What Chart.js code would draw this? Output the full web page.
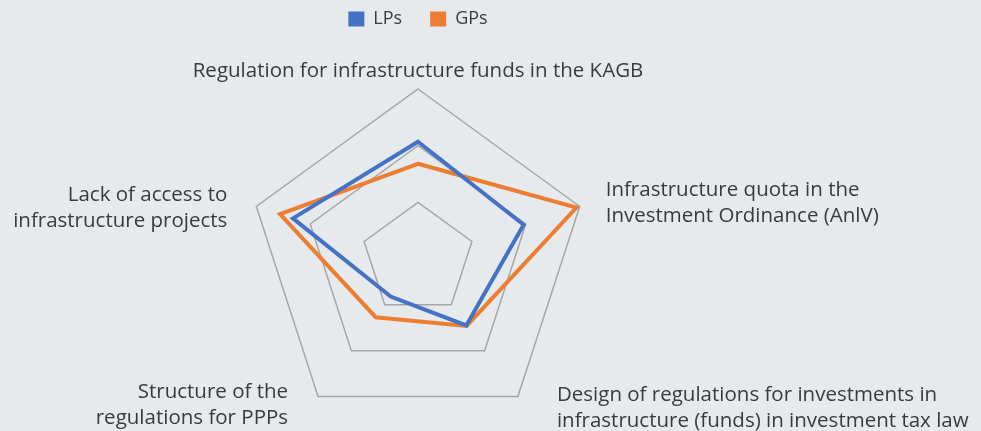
<!DOCTYPE html>
<html>
<head>
<meta charset="utf-8">
<script src="https://cdn.jsdelivr.net/npm/chart.js@4"></script>
<style>
  html, body { margin: 0; padding: 0; background: #e7eaed; }
  #wrap { width: 981px; height: 431px; position: relative; }
</style>
</head>
<body>
<div id="wrap"><canvas id="radarChart"></canvas></div>
<script>
const categories = [
    ['Regulation for infrastructure funds in the KAGB'],
    ['Infrastructure quota in the', 'Investment Ordinance (AnlV)'],
    ['Design of regulations for investments in', 'infrastructure (funds) in investment tax law'],
    ['Structure of the', 'regulations for PPPs'],
    ['Lack of access to', 'infrastructure projects']
]
const lpValues = [2.07, 1.96, 1.45, 0.82, 2.32]
const gpValues = [1.68, 2.94, 1.46, 1.27, 2.56]
const scaleTicks = [0, 1, 2, 3]

const textColor = '#3a3a3a'
const fontFamily = '"Open Sans", sans-serif'
Chart.defaults.font.family = fontFamily
Chart.defaults.color = textColor

// label placement next to each outer corner (offsets from the corner)
const labelPlacement = [
    { dx: 0, dy: -12, align: 'center' },
    { dx: 26, dy: -10, align: 'left' },
    { dx: 39, dy: 4, align: 'left' },
    { dx: -30, dy: 1, align: 'right' },
    { dx: -29, dy: -5, align: 'right' }
]

// legend takes the whole band above the radar
const legendHeight = {
    id: 'legendHeight',
    beforeInit(chart) {
        const fit = chart.legend.fit
        chart.legend.fit = function () {
            fit.bind(chart.legend)()
            this.height = 107
        }
    }
}

const cornerLabels = {
    id: 'cornerLabels',
    afterDraw(chart) {
        const scale = chart.scales.r
        const ctx = chart.ctx
        ctx.save()
        ctx.font = '20.5px ' + fontFamily
        ctx.fillStyle = textColor
        ctx.textBaseline = 'alphabetic'
        categories.forEach((lines, i) => {
            const p = scale.getPointPosition(i, scale.drawingArea)
            const place = labelPlacement[i]
            ctx.textAlign = place.align
            lines.forEach((line, j) => {
                ctx.fillText(line, p.x + place.dx, p.y + place.dy + j * 26)
            })
        })
        ctx.restore()
    }
}

new Chart(document.getElementById('radarChart'), {
    type: 'radar',
    data: {
        labels: categories,
        datasets: [
            {
                label: 'LPs',
                data: lpValues,
                borderColor: '#4472c4',
                backgroundColor: '#4472c4',
                borderWidth: 4,
                fill: false,
                pointRadius: 0,
                pointHoverRadius: 0
            },
            {
                label: 'GPs',
                data: gpValues,
                borderColor: '#ed7d31',
                backgroundColor: '#ed7d31',
                borderWidth: 4,
                fill: false,
                pointRadius: 0,
                pointHoverRadius: 0
            }
        ]
    },
    options: {
        responsive: true,
        maintainAspectRatio: false,
        animation: false,
        layout: {
            padding: { top: -18, bottom: 2, left: 78, right: 223 }
        },
        plugins: {
            legend: {
                position: 'top',
                labels: {
                    boxWidth: 16,
                    boxHeight: 15,
                    padding: 28,
                    font: { size: 18 },
                    color: textColor,
                    generateLabels(chart) {
                        return Chart.defaults.plugins.legend.labels.generateLabels(chart)
                            .map(item => ({ ...item, lineWidth: 0 }))
                    }
                }
            },
            tooltip: { enabled: false }
        },
        scales: {
            r: {
                min: scaleTicks[0],
                max: scaleTicks[scaleTicks.length - 1],
                ticks: { display: false, stepSize: 1 },
                angleLines: { display: false },
                grid: { color: '#a6a6a6', lineWidth: 1.5 },
                pointLabels: { display: false }
            }
        }
    },
    plugins: [legendHeight, cornerLabels]
})
</script>
</body>
</html>
